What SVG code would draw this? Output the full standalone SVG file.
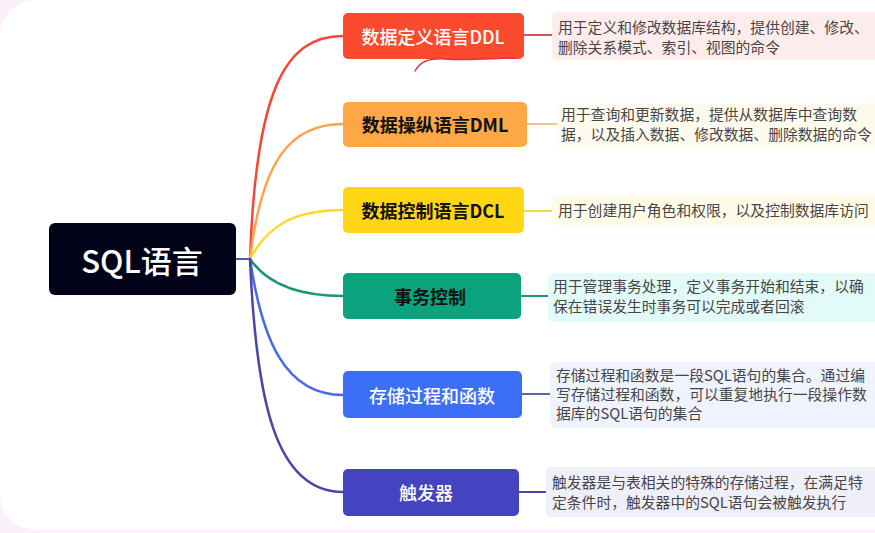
<svg xmlns="http://www.w3.org/2000/svg" width="875" height="533" viewBox="0 0 875 533">
<style>
.nt{font-family:"Noto Sans CJK SC","Noto Sans",sans-serif;font-size:18px;text-anchor:middle;dominant-baseline:central}
.w{fill:#ffffff;font-weight:500}
.b{fill:#111111;font-weight:700}
.dt{font-family:"Noto Sans CJK SC","Noto Sans",sans-serif;font-size:14.8px;fill:#4a4545}
.c{fill:none;stroke-width:2.5;stroke-linecap:round}
.s{fill:none;stroke-width:2}
</style>
<rect x="0" y="0" width="875" height="533" fill="#fcf1fb"/>
<rect x="0" y="0" width="910" height="530" rx="36" fill="#ffffff"/>
<g id="connectors">
<path class="s" d="M236 259 H250" stroke="#5054b0" stroke-width="3"/>
<path class="c" d="M250 259 C256 90 285 36 343 36" stroke="#f2483a"/>
<path class="c" d="M250 259 C262 160 290 124 343 124" stroke="#fca44d"/>
<path class="c" d="M250 259 C268 225 295 210 343 210" stroke="#fcd92a"/>
<path class="c" d="M250 259 C268 285 300 296 343 296" stroke="#16977a"/>
<path class="c" d="M250 259 C262 340 285 395 343 395" stroke="#4a68ec"/>
<path class="c" d="M250 259 C256 400 275 492 343 492" stroke="#4a45a8"/>
<path class="s" d="M524 35 H552" stroke="#d9534f"/>
<path class="s" d="M527 124 H557" stroke="#f7c08a"/>
<path class="s" d="M524 211 H552" stroke="#f5d54a"/>
<path class="s" d="M521 296 H548" stroke="#16977a"/>
<path class="s" d="M522 394 H550" stroke="#5a6a9a"/>
<path class="s" d="M519 492 H546" stroke="#4a45a8"/>
</g>
<g id="root">
<rect x="49" y="223" width="187" height="72" rx="6" fill="#020219"/>
<text x="142" y="259" class="nt w" style="font-size:31px">SQL语言</text>
</g>
<g id="ddl">
<rect x="343" y="13" width="181" height="46" rx="5" fill="#fc4a2e"/>
<text x="433" y="36" class="nt w">数据定义语言DDL</text>
<rect x="552" y="12" width="340" height="48" rx="5" fill="#fdecec"/>
<text class="dt" x="558" y="33">用于定义和修改数据库结构，提供创建、修改、</text>
<text class="dt" x="558" y="53">删除关系模式、索引、视图的命令</text>
</g>
<g id="dml">
<rect x="343" y="102" width="184" height="45" rx="5" fill="#fea745"/>
<text x="435" y="124" class="nt b">数据操纵语言DML</text>
<rect x="557" y="103" width="340" height="45" rx="5" fill="#fefbee"/>
<text class="dt" x="561" y="120">用于查询和更新数据，提供从数据库中查询数</text>
<text class="dt" x="561" y="140">据，以及插入数据、修改数据、删除数据的命令</text>
</g>
<g id="dcl">
<rect x="343" y="187" width="181" height="46" rx="5" fill="#fed614"/>
<text x="433" y="210" class="nt b">数据控制语言DCL</text>
<rect x="552" y="195" width="340" height="30" rx="5" fill="#fefbe9"/>
<text class="dt" x="558" y="216">用于创建用户角色和权限，以及控制数据库访问</text>
</g>
<g id="tx">
<rect x="343" y="273" width="178" height="46" rx="5" fill="#0ba37e"/>
<text x="430" y="296" class="nt b">事务控制</text>
<rect x="548" y="273" width="340" height="49" rx="5" fill="#e2faf8"/>
<text class="dt" x="553" y="292">用于管理事务处理，定义事务开始和结束，以确</text>
<text class="dt" x="553" y="312">保在错误发生时事务可以完成或者回滚</text>
</g>
<g id="proc">
<rect x="343" y="371" width="179" height="47" rx="5" fill="#3d6ff6"/>
<text x="432" y="395" class="nt w">存储过程和函数</text>
<rect x="550" y="362" width="340" height="66" rx="5" fill="#eef3fd"/>
<text class="dt" x="556" y="381">存储过程和函数是一段SQL语句的集合。通过编</text>
<text class="dt" x="556" y="400">写存储过程和函数，可以重复地执行一段操作数</text>
<text class="dt" x="556" y="419">据库的SQL语句的集合</text>
</g>
<g id="trigger">
<rect x="343" y="469" width="176" height="47" rx="5" fill="#4444c0"/>
<text x="426" y="492" class="nt w">触发器</text>
<rect x="546" y="467" width="340" height="50" rx="5" fill="#efeff9"/>
<text class="dt" x="552" y="488">触发器是与表相关的特殊的存储过程，在满足特</text>
<text class="dt" x="552" y="508">定条件时，触发器中的SQL语句会被触发执行</text>
</g>
<path d="M415 71 C420 62 428 58 445 59 C470 61 495 58 515 58" fill="none" stroke="#e0304a" stroke-width="1.5" stroke-linecap="round"/>
</svg>
